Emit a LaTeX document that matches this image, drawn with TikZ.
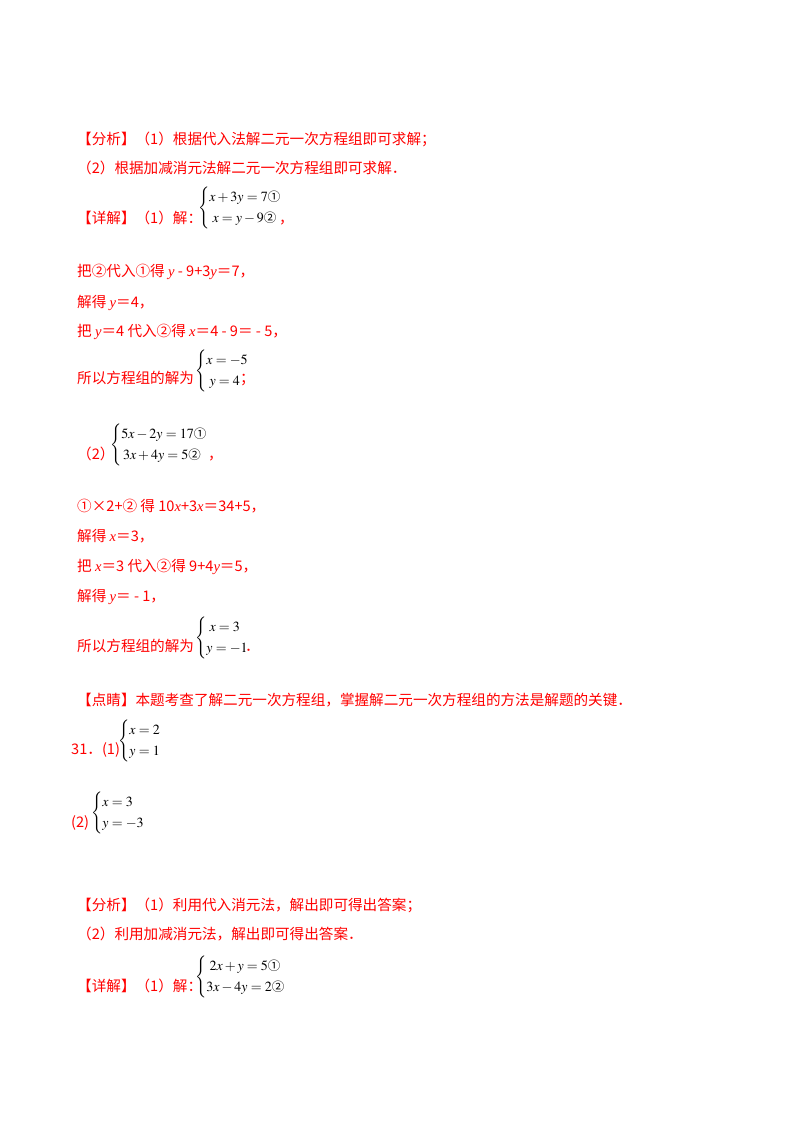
\documentclass[tikz,border=0pt]{standalone}
\usepackage{mathptmx}
\usepackage{fontspec}
\usepackage{amsmath}
\newfontfamily\cjk{Noto Sans CJK SC}
\newfontfamily\ser{Liberation Serif}
\newcommand{\iv}[1]{{\ser\itshape #1}}
\newcommand{\ca}{\mbox{\cjk\fontsize{12.5}{15}\selectfont ①}}
\newcommand{\cb}{\mbox{\cjk\fontsize{12.5}{15}\selectfont ②}}
\renewcommand{\arraystretch}{1.3}
\begin{document}
\begin{tikzpicture}[x=1pt,y=-1pt,
  t/.style={anchor=base west,text=red,font=\cjk\fontsize{14.6}{16}\selectfont,inner sep=0},
  sys/.style={anchor=west,text=black,font=\fontsize{14}{16}\selectfont,inner sep=0}]
\useasboundingbox (0,0) rectangle (800,1132);
\node[t] (l1) at (77,144) {【分析】（1）根据代入法解二元一次方程组即可求解；};
\node[t] (l2) at (77,173) {（2）根据加减消元法解二元一次方程组即可求解．};
\node[t] (l3) at (77,223) {【详解】（1）解：};
\node[sys] (s1) at (198,208) {$\left\{\begin{array}{@{}l@{}}x+3y=7\ca\\ \;x=y-9\cb\end{array}\right.$};
\node[t] (c1) at (279,223) {，};
\node[t] (l4) at (77,276) {把②代入①得 \iv{y} - 9+3\iv{y}＝7，};
\node[t] (l5) at (77,307) {解得 \iv{y}＝4，};
\node[t] (l6) at (77,336) {把 \iv{y}＝4 代入②得 \iv{x}＝4 - 9＝ - 5，};
\node[t] (l7) at (77,383) {所以方程组的解为};
\node[sys] (s2) at (195,371) {$\left\{\begin{array}{@{}l@{}}x=-5\\ \;y=4\end{array}\right.$};
\node[t] (c2) at (240,383) {；};
\node[t] (l8) at (77,459) {（2）};
\node[sys] (s3) at (110,445) {$\left\{\begin{array}{@{}l@{}}5x-2y=17\ca\\ \,3x+4y=5\cb\end{array}\right.$};
\node[t] (c3) at (208,459) {，};
\node[t] (l9) at (77,511) {①×2+② 得 10\iv{x}+3\iv{x}＝34+5，};
\node[t] (l10) at (77,541) {解得 \iv{x}＝3，};
\node[t] (l11) at (77,571) {把 \iv{x}＝3 代入②得 9+4\iv{y}＝5，};
\node[t] (l12) at (77,601) {解得 \iv{y}＝ - 1，};
\node[t] (l13) at (77,651) {所以方程组的解为};
\node[sys] (s4) at (195,638) {$\left\{\begin{array}{@{}l@{}}\;x=3\\ y=-1\end{array}\right.$};
\node[t] (c4) at (245,651) {．};
\node[t] (l14) at (77,705) {【点睛】本题考查了解二元一次方程组，掌握解二元一次方程组的方法是解题的关键．};
\node[t] (l15) at (71,754) {31．(1)};
\node[sys] (s5) at (118,741) {$\left\{\begin{array}{@{}l@{}}x=2\\ y=1\end{array}\right.$};
\node[t] (l16) at (71,827) {(2)};
\node[sys] (s6) at (91,813) {$\left\{\begin{array}{@{}l@{}}x=3\\ y=-3\end{array}\right.$};
\node[t] (l17) at (77,910) {【分析】（1）利用代入消元法，解出即可得出答案；};
\node[t] (l18) at (77,939) {（2）利用加减消元法，解出即可得出答案．};
\node[t] (l19) at (77,991) {【详解】（1）解：};
\node[sys] (s7) at (195,977) {$\left\{\begin{array}{@{}l@{}}\;2x+y=5\ca\\ 3x-4y=2\cb\end{array}\right.$};
\end{tikzpicture}
\end{document}
